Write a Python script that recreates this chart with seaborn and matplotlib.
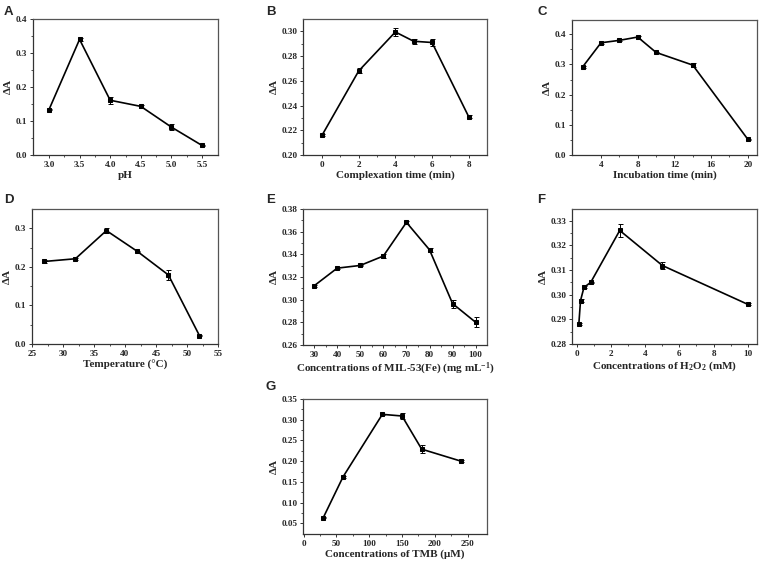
import matplotlib
matplotlib.use("Agg")
import matplotlib.pyplot as plt
import seaborn as sns
import pandas as pd
import numpy as np

# ---- data ----
ph_x = [3.0, 3.5, 4.0, 4.5, 5.0, 5.5]
ph_y = [0.133, 0.340, 0.161, 0.143, 0.082, 0.028]
ph_e = [0.002, 0.004, 0.010, 0.004, 0.009, 0.002]

cx_x = [0, 2, 4, 5, 6, 8]
cx_y = [0.216, 0.268, 0.2995, 0.292, 0.291, 0.231]
cx_e = [0.001, 0.002, 0.003, 0.002, 0.003, 0.001]

inc_x = [2, 4, 6, 8, 10, 14, 20]
inc_y = [0.292, 0.372, 0.380, 0.391, 0.340, 0.298, 0.052]
inc_e = [0.002, 0.003, 0.003, 0.005, 0.002, 0.007, 0.002]

t_x = [27, 32, 37, 42, 47, 52]
t_y = [0.214, 0.221, 0.294, 0.240, 0.179, 0.022]
t_e = [0.005, 0.002, 0.007, 0.002, 0.012, 0.002]

mil_x = [30, 40, 50, 60, 70, 80, 90, 100]
mil_y = [0.3122, 0.3278, 0.3302, 0.3385, 0.3682, 0.3440, 0.2965, 0.2800]
mil_e = [0.0008, 0.0008, 0.0008, 0.0015, 0.0015, 0.0015, 0.0035, 0.0045]

h2o2_x = [0.1, 0.2, 0.4, 0.8, 2.5, 5, 10]
h2o2_y = [0.2880, 0.2976, 0.3029, 0.3050, 0.3260, 0.3118, 0.2961]
h2o2_e = [0.0004, 0.0005, 0.0004, 0.0003, 0.0025, 0.0013, 0.0004]

tmb_x = [30, 60, 120, 150, 180, 240]
tmb_y = [0.064, 0.162, 0.313, 0.309, 0.229, 0.200]
tmb_e = [0.002, 0.003, 0.002, 0.008, 0.009, 0.002]

sns.set_style("ticks")
plt.rcParams['font.family'] = ['Liberation Serif', 'DejaVu Serif']
plt.rcParams['font.weight'] = 'bold'
plt.rcParams['mathtext.fontset'] = 'custom'
plt.rcParams['mathtext.rm'] = 'Liberation Serif:bold'
plt.rcParams['mathtext.bf'] = 'Liberation Serif:bold'
plt.rcParams['mathtext.it'] = 'Liberation Serif:italic:bold'

W, H = 763, 566
fig = plt.figure(figsize=(W / 100, H / 100), dpi=100)

def make_ax(l, t, r, b):
    return fig.add_axes([l / W, 1 - b / H, (r - l) / W, (b - t) / H])

panels = [
    dict(box=(33, 19, 218, 155), x=ph_x, y=ph_y, e=ph_e, xlim=(2.74, 5.76), ylim=(0, 0.4),
         xt=[3.0, 3.5, 4.0, 4.5, 5.0, 5.5], yt=[0.0, 0.1, 0.2, 0.3, 0.4], xfmt="{:.1f}", yfmt="{:.1f}",
         xl="pH", letter="A", lpos=(4, 12)),
    dict(box=(303, 19, 487, 155), x=cx_x, y=cx_y, e=cx_e, xlim=(-1.04, 9.0), ylim=(0.20, 0.31),
         xt=[0, 2, 4, 6, 8], yt=[0.20, 0.22, 0.24, 0.26, 0.28, 0.30], xfmt="{:.0f}", yfmt="{:.2f}",
         xl="Complexation time (min)", letter="B", lpos=(266, 12)),
    dict(box=(572, 20, 757, 155), x=inc_x, y=inc_y, e=inc_e, xlim=(0.84, 21.0), ylim=(0, 0.4475),
         xt=[4, 8, 12, 16, 20], yt=[0.0, 0.1, 0.2, 0.3, 0.4], xfmt="{:.0f}", yfmt="{:.1f}",
         xl="Incubation time (min)", letter="C", lpos=(537, 12)),
    dict(box=(32, 209, 218, 344), x=t_x, y=t_y, e=t_e, xlim=(25, 55), ylim=(0, 0.35),
         xt=[25, 30, 35, 40, 45, 50, 55], yt=[0.0, 0.1, 0.2, 0.3], xfmt="{:.0f}", yfmt="{:.1f}",
         xl="Temperature (°C)", letter="D", lpos=(4, 200)),
    dict(box=(303, 209, 487, 345), x=mil_x, y=mil_y, e=mil_e, xlim=(25.2, 104.9), ylim=(0.26, 0.38),
         xt=[30, 40, 50, 60, 70, 80, 90, 100], yt=[0.26, 0.28, 0.30, 0.32, 0.34, 0.36, 0.38],
         xfmt="{:.0f}", yfmt="{:.2f}",
         xl="Concentrations of MIL-53(Fe) (mg mL$^{\\mathbf{-1}}$)", letter="E", lpos=(266, 200)),
    dict(box=(572, 209, 757, 344), x=h2o2_x, y=h2o2_y, e=h2o2_e, xlim=(-0.3, 10.55), ylim=(0.28, 0.3347),
         xt=[0, 2, 4, 6, 8, 10], yt=[0.28, 0.29, 0.30, 0.31, 0.32, 0.33], xfmt="{:.0f}", yfmt="{:.2f}",
         xl="Concentrations of H$_\\mathbf{2}$O$_\\mathbf{2}$ (mM)", letter="F", lpos=(537, 200)),
    dict(box=(303, 399, 487, 534), x=tmb_x, y=tmb_y, e=tmb_e, xlim=(-1, 279.6), ylim=(0.0243, 0.35),
         xt=[0, 50, 100, 150, 200, 250], yt=[0.05, 0.10, 0.15, 0.20, 0.25, 0.30, 0.35],
         xfmt="{:.0f}", yfmt="{:.2f}",
         xl="Concentrations of TMB (μM)", letter="G", lpos=(266, 387)),
]

for p in panels:
    ax = make_ax(*p["box"])
    df = pd.DataFrame({"x": p["x"], "y": p["y"]})
    ax.errorbar(p["x"], p["y"], yerr=p["e"], fmt="none", ecolor="black", elinewidth=0.7,
                capsize=1.8, capthick=0.7, zorder=2)
    sns.lineplot(data=df, x="x", y="y", ax=ax, color="black", linewidth=1.2, marker="s",
                 markersize=3.5, markeredgecolor="black", markerfacecolor="black", zorder=3)
    ax.set_xlim(*p["xlim"])
    ax.set_ylim(*p["ylim"])
    ax.set_xticks(p["xt"])
    ax.set_xticklabels([p["xfmt"].format(v) for v in p["xt"]])
    ax.set_yticks(p["yt"])
    ax.set_yticklabels([p["yfmt"].format(v) for v in p["yt"]])
    xt = p["xt"]
    yt = p["yt"]
    ax.set_xticks([(xt[i] + xt[i + 1]) / 2 for i in range(len(xt) - 1)], minor=True)
    ax.set_yticks([(yt[i] + yt[i + 1]) / 2 for i in range(len(yt) - 1)], minor=True)
    ax.tick_params(axis="both", which="major", direction="out", length=2.5, width=0.7,
                   labelsize=6.6, pad=1.5, color="#333333")
    ax.tick_params(axis="both", which="minor", direction="out", length=1.5, width=0.6, color="#333333")
    for lab in ax.get_xticklabels() + ax.get_yticklabels():
        lab.set_fontweight("bold")
    for side, sp in ax.spines.items():
        sp.set_visible(True)
        sp.set_linewidth(0.9)
        sp.set_color("#555555" if side in ("top", "right") else "#333333")
    ax.set_xlabel(p["xl"], fontsize=8, fontweight="bold", labelpad=1.5)
    ax.set_ylabel("ΔA", fontsize=8, fontweight="bold", labelpad=2)
    fig.text(p["lpos"][0] / W, 1 - p["lpos"][1] / H, p["letter"], fontsize=9.5, fontweight="bold",
             family=["Liberation Sans", "DejaVu Sans"], va="center", ha="left")

fig.savefig("out.png", dpi=100, facecolor="white")
